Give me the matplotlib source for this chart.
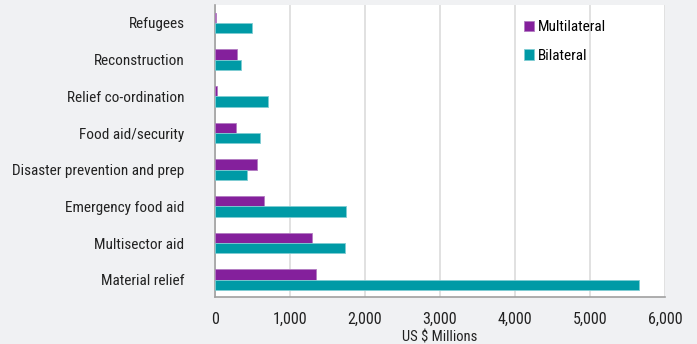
import numpy as np
import matplotlib.pyplot as plt

plt.rcParams['font.family'] = ['Roboto Condensed', 'Archivo Narrow', 'Liberation Sans Narrow', 'DejaVu Sans']

categories = ['Material relief', 'Multisector aid', 'Emergency food aid',
              'Disaster prevention and prep', 'Food aid/security',
              'Relief co-ordination', 'Reconstruction', 'Refugees']
multilateral = [1347, 1289, 658, 564, 276, 27, 289, 15]
bilateral = [5653, 1738, 1747, 427, 596, 702, 342, 489]
xticks = [0, 1000, 2000, 3000, 4000, 5000, 6000]

PURPLE = '#84209c'
TEAL = '#009aa6'
BG = '#f0f1f3'

fig = plt.figure(figsize=(6.97, 3.44), dpi=100, facecolor=BG)
ax = fig.add_axes([215/697, 47/344, 450/697, 292/344])
ax.set_facecolor('white')

y = np.arange(len(categories))
h = 0.28
ax.barh(y + h/2, multilateral, height=h, color=PURPLE, edgecolor='#b27bc2',
        linewidth=0.6, label='Multilateral', zorder=3)
ax.barh(y - h/2, bilateral, height=h, color=TEAL, edgecolor='#7fcdd3',
        linewidth=0.6, label='Bilateral', zorder=3)

ax.set_xlim(0, 6000)
ax.set_ylim(-0.47, 7.49)
ax.set_xticks(xticks)
ax.set_xticklabels([f'{v:,}' for v in xticks], fontsize=11.5, color='#222222')
ax.set_yticks(y)
ax.set_yticklabels(categories, fontsize=11, color='#222222')
ax.tick_params(axis='y', length=0, pad=22)
ax.tick_params(axis='x', length=0, pad=11)
ax.grid(axis='x', color='#dcdcdc', lw=1.2, zorder=0)
ax.set_axisbelow(True)

for s in ['top', 'right']:
    ax.spines[s].set_visible(False)
for s in ['left', 'bottom']:
    ax.spines[s].set_color('#a0a0a0')
    ax.spines[s].set_linewidth(1.2)

ax.set_xlabel('US $ Millions', fontsize=10.5, color='#222222', labelpad=2)

leg = ax.legend(loc='upper left', bbox_to_anchor=(0.655, 0.995), frameon=False,
                fontsize=11, handlelength=0.7, handleheight=0.7,
                handletextpad=0.25, labelspacing=0.95)

fig.savefig('out.png', dpi=100, facecolor=BG)
